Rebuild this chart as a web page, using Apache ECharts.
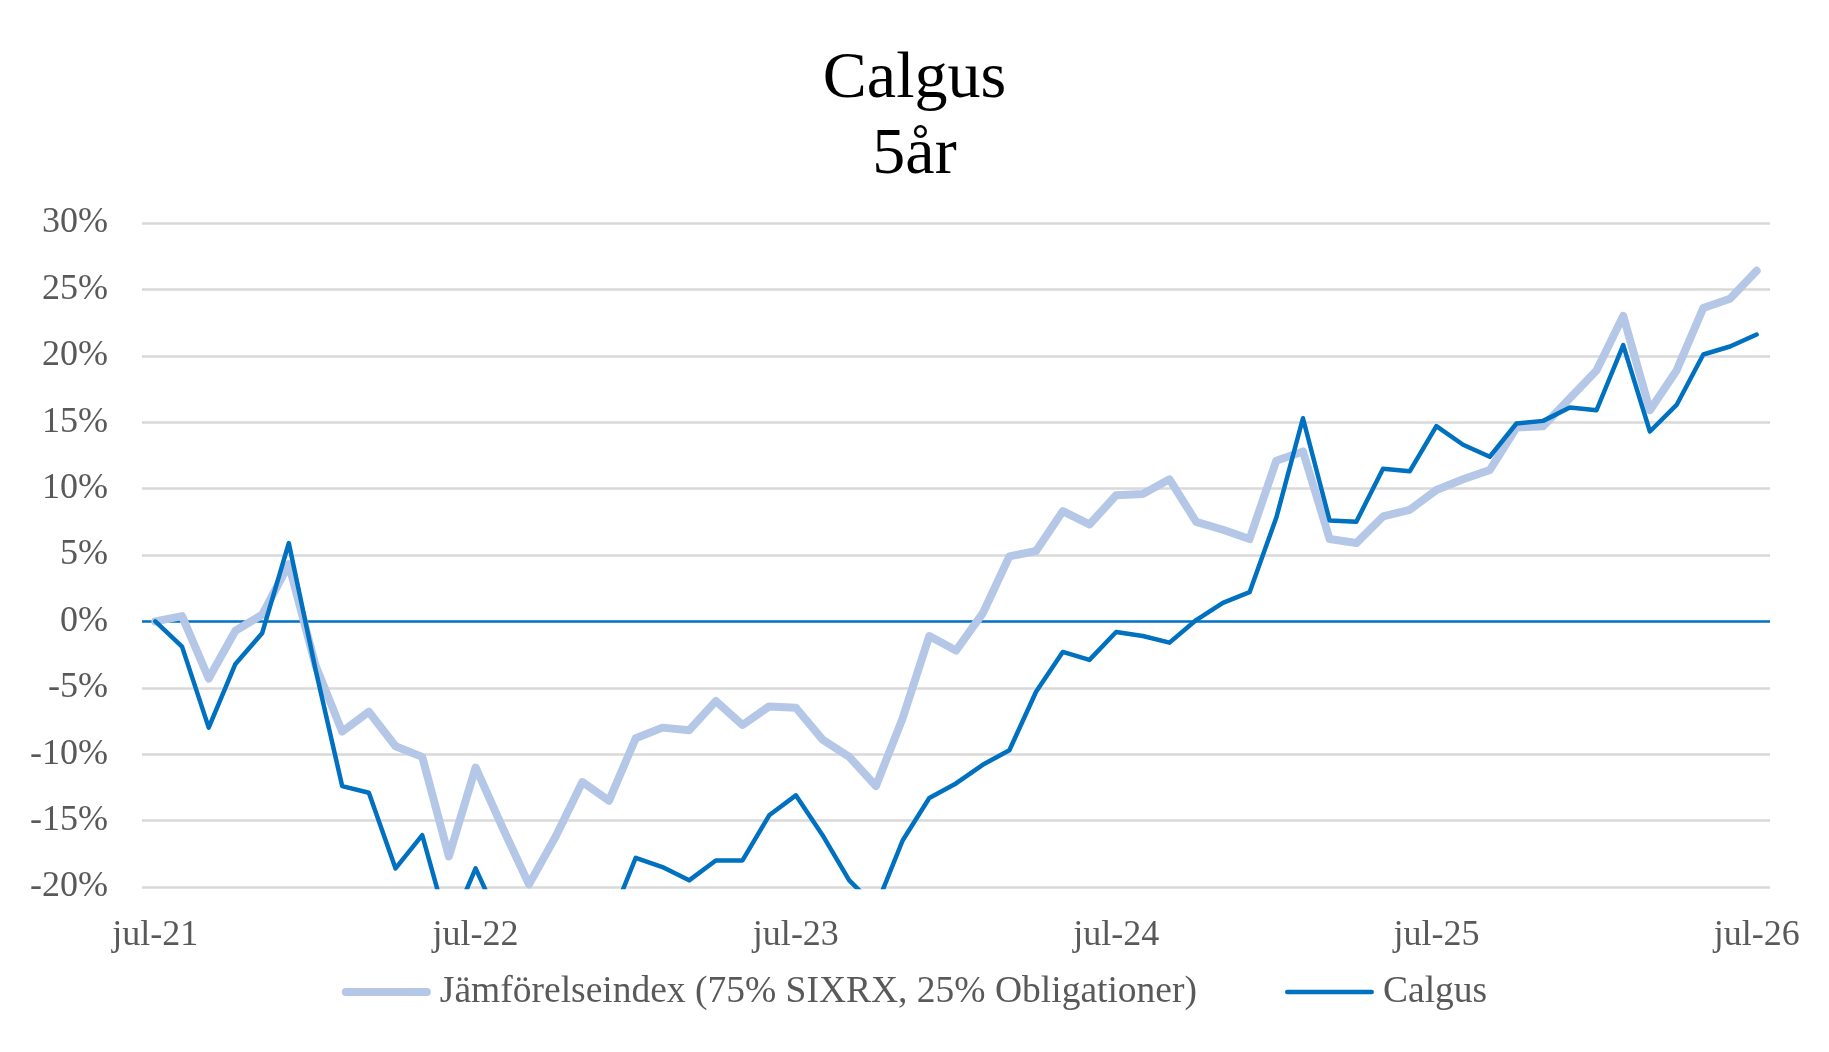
<!DOCTYPE html>
<html>
<head>
<meta charset="utf-8">
<script src="https://cdn.jsdelivr.net/npm/echarts@6/dist/echarts.min.js"></script>
<style>
  html, body { margin: 0; padding: 0; background: #fff; }
  #chart { width: 1829px; height: 1052px; }
</style>
</head>
<body>
<div id="chart"></div>
<script>
// månader jul-21 .. jul-26
var months = ['jan', 'feb', 'mar', 'apr', 'maj', 'jun', 'jul', 'aug', 'sep', 'okt', 'nov', 'dec'];
var categories = [];
for (var i = 0; i < 61; i++) {
  var m = (6 + i) % 12;
  var y = 21 + Math.floor((6 + i) / 12);
  categories.push(months[m] + '-' + y);
}

// värden i procent
var indexValues = [
  0, 0.4, -4.3, -0.7, 0.5, 4.3, -3.3, -8.3, -6.8, -9.4, -10.2, -17.7,
  -11.0, -15.5, -19.8, -16.2, -12.1, -13.5, -8.8, -8.0, -8.2, -6.0, -7.8, -6.4,
  -6.5, -8.9, -10.2, -12.4, -7.3, -1.1, -2.2, 0.6, 4.9, 5.3, 8.3, 7.3,
  9.5, 9.6, 10.7, 7.5, 6.9, 6.2, 12.1, 12.8, 6.2, 5.9, 7.9, 8.4,
  9.9, 10.7, 11.4, 14.6, 14.7, 16.8, 18.9, 23.0, 15.9, 18.9, 23.6, 24.3,
  26.4
];
var calgusValues = [
  0, -1.9, -8.0, -3.2, -0.9, 5.9, -3.6, -12.4, -12.9, -18.6, -16.1, -23.3,
  -18.6, -23.0, -27.0, -25.0, -21.5, -22.8, -17.8, -18.5, -19.5, -18.0, -18.0, -14.6,
  -13.1, -16.1, -19.5, -21.5, -16.5, -13.3, -12.2, -10.8, -9.7, -5.3, -2.3, -2.9,
  -0.8, -1.1, -1.6, 0.1, 1.4, 2.2, 7.8, 15.3, 7.6, 7.5, 11.5, 11.3,
  14.7, 13.3, 12.4, 14.9, 15.1, 16.1, 15.9, 20.8, 14.3, 16.3, 20.1, 20.7,
  21.6
];

var seriesNames = ['Jämförelseindex (75% SIXRX, 25% Obligationer)', 'Calgus'];
var font = 'Liberation Serif';
var textGrey = '#595959';
var lightBlue = '#B4C7E7';
var darkBlue = '#0070C0';

// legendikon: rundad linje i en 89x14-ruta (hörnpunkterna håller rutans storlek)
function lineIcon(w) {
  var r = w / 2, t = 7 - r, b = 7 + r;
  return 'path://M0,0L0,0 M89,14L89,14 ' +
    'M' + r + ',' + t + 'L' + (89 - r) + ',' + t +
    'A' + r + ',' + r + ' 0 0 1 ' + (89 - r) + ',' + b +
    'L' + r + ',' + b +
    'A' + r + ',' + r + ' 0 0 1 ' + r + ',' + t + 'Z';
}

var myChart = echarts.init(document.getElementById('chart'));

var option = {
  animation: false,
  title: {
    text: 'Calgus\n5år',
    left: 'center',
    top: 42,
    padding: 0,
    textStyle: {
      fontFamily: font,
      fontSize: 66,
      fontWeight: 'normal',
      lineHeight: 76,
      color: '#000'
    }
  },
  legend: {
    data: [
      { name: seriesNames[0], icon: lineIcon(8), itemStyle: { color: lightBlue } },
      { name: seriesNames[1], icon: lineIcon(4.5), itemStyle: { color: darkBlue } }
    ],
    left: 'center',
    top: 968,
    itemWidth: 89,
    itemHeight: 14,
    itemGap: 88,
    textStyle: {
      fontFamily: font,
      fontSize: 37.5,
      color: textGrey,
      padding: [0, 0, 0, 4]
    }
  },
  grid: {
    left: 142,
    right: 59,
    top: 223,
    bottom: 165,
    containLabel: false
  },
  xAxis: {
    type: 'category',
    data: categories,
    boundaryGap: true,
    axisLine: { show: false },
    axisTick: { show: false },
    axisLabel: {
      interval: 11,
      margin: 31,
      fontFamily: font,
      fontSize: 36,
      color: textGrey
    },
    splitLine: { show: false }
  },
  yAxis: {
    type: 'value',
    min: -20,
    max: 30,
    interval: 5,
    axisLine: { show: false },
    axisTick: { show: false },
    axisLabel: {
      formatter: '{value}%',
      margin: 34,
      fontFamily: font,
      fontSize: 36,
      color: textGrey
    },
    // nollinjen blå, övriga grå
    splitLine: {
      lineStyle: {
        color: ['#D9D9D9', '#D9D9D9', '#D9D9D9', '#D9D9D9', darkBlue,
                '#D9D9D9', '#D9D9D9', '#D9D9D9', '#D9D9D9', '#D9D9D9', '#D9D9D9'],
        width: 2.5
      }
    }
  },
  series: [
    {
      name: seriesNames[0],
      type: 'line',
      data: indexValues,
      symbol: 'none',
      clip: true,
      lineStyle: {
        color: lightBlue,
        width: 8,
        cap: 'round',
        join: 'round'
      },
      itemStyle: { color: lightBlue }
    },
    {
      name: seriesNames[1],
      type: 'line',
      data: calgusValues,
      symbol: 'none',
      clip: true,
      lineStyle: {
        color: darkBlue,
        width: 4.5,
        cap: 'round',
        join: 'round'
      },
      itemStyle: { color: darkBlue }
    }
  ]
};

myChart.setOption(option, true);
</script>
</body>
</html>
